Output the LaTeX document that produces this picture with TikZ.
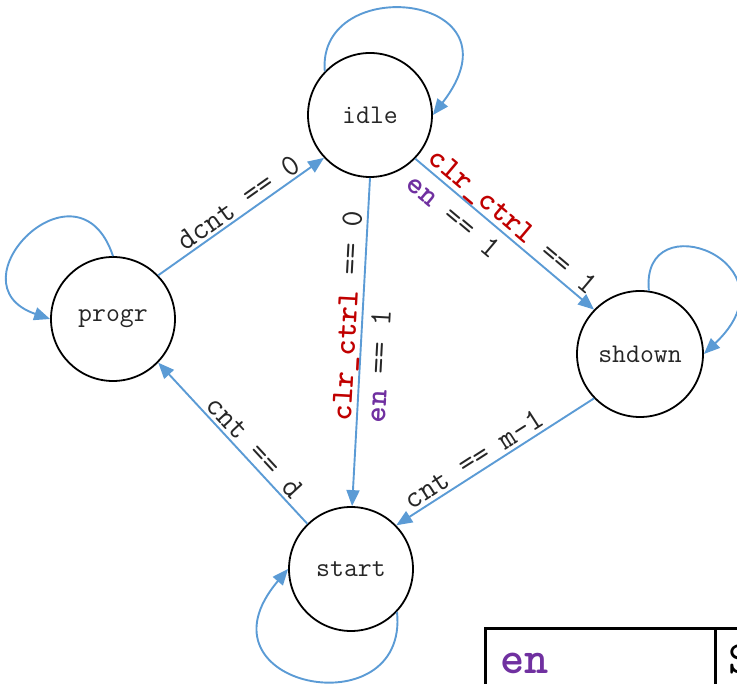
\documentclass[tikz,border=0pt]{standalone}
\usepackage{fontspec}
\usetikzlibrary{arrows.meta}
\definecolor{edgeblue}{HTML}{5B9BD5}
\definecolor{ctrlred}{HTML}{C00000}
\definecolor{enpurple}{HTML}{7030A0}
\newcommand\CLRtxt{\textcolor{ctrlred}{\bfseries clr\_ctrl}}
\newcommand\ENtxt{\textcolor{enpurple}{\bfseries en}}
\tikzset{
  statenode/.style={circle, draw=black, line width=1.8bp, minimum size=124bp, inner sep=0pt,
    font=\ttfamily\fontsize{27bp}{32bp}\selectfont, text=black!85},
  edgeline/.style={draw=edgeblue, line width=1.9bp, -{Triangle[length=16bp,width=13bp]}},
  lbl/.style={font=\ttfamily\fontsize{31bp}{36bp}\selectfont, sloped, text=black!85},
}
\begin{document}
\begin{tikzpicture}[x=1bp,y=1bp]
\path[use as bounding box, clip] (0,0) rectangle (737,684);
% states
\node[statenode] (idle)   at (370,569) {idle};
\node[statenode] (progr)  at (113,365) {progr};
\node[statenode, minimum size=126bp] (shdown) at (640,330) {shdown};
\node[statenode] (start)  at (351,115) {start};
% transitions
\draw[edgeline] (progr.44) -- (idle.223)
  node[lbl, pos=0.53, anchor=south, inner sep=2bp] (l1) {dcnt == 0};
\draw[edgeline] (idle.270) -- (start.89)
  node[lbl, pos=0.745, anchor=south west, inner sep=0pt] (l2a) {\CLRtxt{} == 0}
  node[lbl, pos=0.745, anchor=north west, inner xsep=0pt, inner ysep=8bp] (l2b) {\ENtxt{} == 1};
\draw[edgeline] (idle.316) -- (shdown.136)
  node[lbl, pos=0.04, anchor=south west, inner sep=0pt] (l3a) {\CLRtxt{} == 1}
  node[lbl, pos=0.04, anchor=north west, inner xsep=0pt, inner ysep=8bp] (l3b) {\ENtxt{} == 1};
\draw[edgeline] (start.134) -- (progr.316)
  node[lbl, pos=0.42, anchor=south, inner sep=3bp] (l4) {cnt == d};
\draw[edgeline] (shdown.224) -- (start.44)
  node[lbl, pos=0.57, anchor=south, inner sep=3bp] (l5) {cnt == m-1};
% self loops
\draw[edgeline] (idle.136) .. controls +(-8,100) and +(95,122) .. (idle.0);
\draw[edgeline] (progr.90) .. controls +(-35,105) and +(-102,35) .. (progr.180);
\draw[edgeline] (shdown.82) .. controls +(-9,90) and +(97,92) .. (shdown.0);
\draw[edgeline] (start.317) .. controls +(12,-118) and +(-100,-118) .. (start.180);
% table fragment
\draw[line width=3bp] (485,-10) |- (760,55);
\draw[line width=3bp] (715,55) -- (715,-10);
\node[anchor=base west, inner sep=0pt, text=enpurple, font=\ttfamily\bfseries\fontsize{46bp}{50bp}\selectfont] (tben) at (500,10) {en};
\node[anchor=base west, inner sep=0pt, font=\ttfamily\fontsize{46bp}{50bp}\selectfont] (tbs) at (728,10) {S};
\end{tikzpicture}
\end{document}
